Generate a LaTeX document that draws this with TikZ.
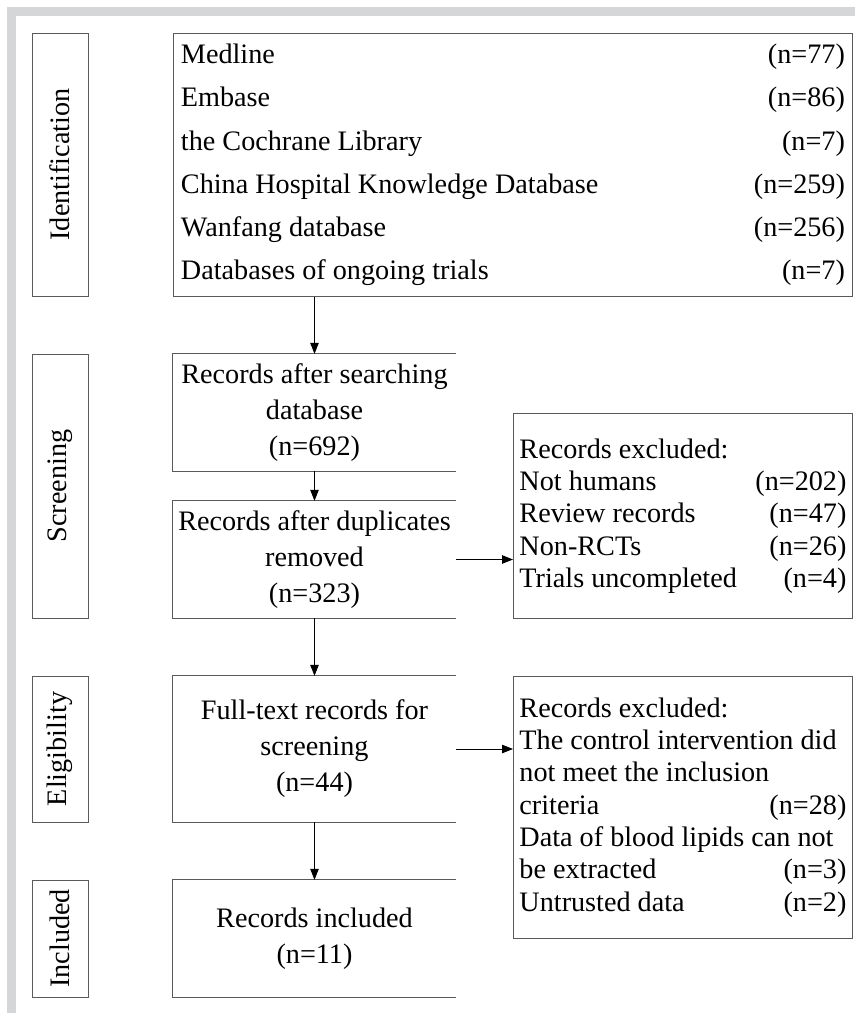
\documentclass[tikz,border=0pt]{standalone}
\usepackage{fontspec}
\setmainfont{Liberation Serif}
\usetikzlibrary{arrows.meta}
\usepackage{xcolor}
\definecolor{framegray}{HTML}{D4D6D8}
\definecolor{boxline}{HTML}{5A5A5A}
\newcommand{\numfill}{\hspace{0pt plus 1filll}}

\begin{document}
\begin{tikzpicture}[
  x=1pt,y=-1pt,>={Triangle[length=11pt,width=8.5pt]},
  every node/.style={font=\fontsize{28.2}{32.5}\selectfont,inner sep=0pt},
  stage/.style={draw=boxline,line width=0.9pt,rotate=90,minimum height=56},
  flow/.style={align=center,minimum width=283,font=\fontsize{28.2}{36}\selectfont},
  openbox/.style={draw=boxline,line width=0.9pt},
  excl/.style={draw=boxline,line width=0.9pt,anchor=north west,minimum width=339,
    text width=327,inner xsep=6pt,align=flush left,font=\fontsize{28.2}{32.3}\selectfont},
  link/.style={->,line width=0.8pt,black}
]
  \useasboundingbox (0,0) rectangle (855,1013);

  % grey page frame (top and left only)
  \fill[framegray] (7,7) rectangle (855,16);
  \fill[framegray] (7,7) rectangle (16,1013);

  % Stage labels on the left
  \node[stage,minimum width=263] (s_id)   at (60,164.5) {Identification};
  \node[stage,minimum width=264] (s_scr)  at (60,486)   {Screening};
  \node[stage,minimum width=146] (s_elig) at (60,749)   {Eligibility};
  \node[stage,minimum width=117] (s_inc)  at (60,938.5) {Included};

  % Sources searched
  \node[draw=boxline,line width=0.9pt,anchor=north west,minimum width=679,minimum height=263,
        text width=664,inner xsep=7.5pt,align=flush left,font=\fontsize{28.2}{43.2}\selectfont]
    (dbs) at (173,33)
    {Medline\numfill(n=77)\\
     Embase\numfill(n=86)\\
     the Cochrane Library\numfill(n=7)\\
     China Hospital Knowledge Database\numfill(n=259)\\
     Wanfang database\numfill(n=256)\\
     Databases of ongoing trials\numfill(n=7)};

  % Main flow (boxes open on their right side)
  \node[flow,minimum height=117] (search) at (314.5,412.5) {Records after searching\\database\\(n=692)};
  \node[flow,minimum height=117] (dup)    at (314.5,559.5) {Records after duplicates\\removed\\(n=323)};
  \node[flow,minimum height=146] (full)   at (314.5,749)   {Full-text records for\\screening\\(n=44)};
  \node[flow,minimum height=117] (incl)   at (314.5,938.5) {Records included\\(n=11)};

  \draw[openbox] (search.north east) -- (search.north west) -- (search.south west) -- (search.south east);
  \draw[openbox] (dup.north east) -- (dup.north west) -- (dup.south west) -- (dup.south east);
  \draw[openbox] (full.north east) -- (full.north west) -- (full.south west) -- (full.south east);
  \draw[openbox] (incl.north east) -- (incl.north west) -- (incl.south west) -- (incl.south east);

  % Exclusion boxes
  \node[excl,minimum height=205] (excl1) at (513,413)
    {Records excluded:\\
     Not humans\numfill(n=202)\\
     Review records\numfill(n=47)\\
     Non-RCTs\numfill(n=26)\\
     Trials uncompleted\numfill(n=4)};
  \node[excl,minimum height=262] (excl2) at (513,676)
    {Records excluded:\\
     The control intervention did\\
     not meet the inclusion\\
     criteria\numfill(n=28)\\
     Data of blood lipids can not\\
     be extracted\numfill(n=3)\\
     Untrusted data\numfill(n=2)};

  % Arrows
  \draw[link] (dbs.south -| search.north) -- (search.north);
  \draw[link] (search.south) -- (dup.north);
  \draw[link] (dup.south) -- (full.north);
  \draw[link] (full.south) -- (incl.north);
  \draw[link] (dup.east) -- (excl1.west |- dup.east);
  \draw[link] (full.east) -- (excl2.west |- full.east);
\end{tikzpicture}
\end{document}
